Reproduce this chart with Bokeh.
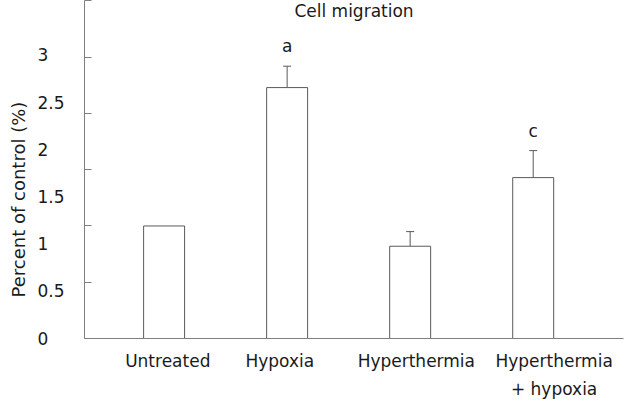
from bokeh.plotting import figure
from bokeh.models import (ColumnDataSource, Range1d, LinearAxis, FixedTicker,
                          Whisker, TeeHead, Label, Title)
from bokeh.core.properties import value
from bokeh.embed import file_html
from bokeh.resources import INLINE

# ---------------- data ----------------
categories = ["Untreated", "Hypoxia", "Hyperthermia", "Hyperthermia\n+ hypoxia"]
means = [1.0, 2.23, 0.82, 1.43]
errors = [0.0, 0.19, 0.13, 0.24]
sig_letters = ["", "a", "", "c"]
y_ticks = [0, 0.5, 1, 1.5, 2, 2.5, 3]
y_tick_labels = ["0", "0.5", "1", "1.5", "2", "2.5", "3"]
chart_title = "Cell migration"
y_title = "Percent of control (%)"

# ---------------- layout / style ----------------
FONT = "DejaVu Sans"
TXT = "#1a1a1a"
AX = "#808080"
BAR = "#5a5a5a"
X_START, X_END = 0.353, 4.734
Y_END = 3.004
LABEL_Y_END = 3.583                  # the original's tick labels sit on a compressed scale
LABEL_X = [1.03, 1.94, 3.05, 4.17]   # where the category labels are anchored

pos = list(range(1, len(categories) + 1))
upper = [m + e for m, e in zip(means, errors)]
src = ColumnDataSource(dict(x=pos, top=means))
idx = [i for i, e in enumerate(errors) if e > 0]
err_src = ColumnDataSource(dict(x=[pos[i] for i in idx],
                                lower=[means[i] for i in idx],
                                upper=[upper[i] for i in idx]))
lidx = [i for i, s in enumerate(sig_letters) if s]
let_src = ColumnDataSource(dict(x=[pos[i] for i in lidx],
                                y=[upper[i] for i in lidx],
                                letter=[sig_letters[i] for i in lidx]))

p = figure(width=630, height=403, output_backend="svg",
           toolbar_location=None,
           x_range=Range1d(X_START, X_END), y_range=Range1d(0, Y_END),
           min_border_left=83, min_border_right=7, min_border_top=0,
           min_border_bottom=65, outline_line_color=None,
           background_fill_color="white", border_fill_color="white")
p.xgrid.visible = False
p.ygrid.visible = False

# bars
p.vbar(x="x", top="top", bottom=0, width=0.333, source=src,
       fill_color="white", line_color=BAR, line_width=1)

# error bars (upper only)
p.add_layout(Whisker(base="x", lower="lower", upper="upper", source=err_src,
                     dimension="height", line_color=BAR, line_width=1,
                     lower_head=None,
                     upper_head=TeeHead(size=8, line_color=BAR, line_width=1)))

# significance letters
p.text(x="x", y="y", text="letter", source=let_src, text_align="center",
       text_baseline="alphabetic", y_offset=-20, text_color=TXT,
       text_font=value(FONT), text_font_size="17px")

# chart title inside the frame
p.add_layout(Label(x=(X_START + X_END) / 2, y=Y_END, text=chart_title,
                   text_align="center", text_baseline="top", text_color=TXT,
                   text_font=FONT, text_font_size="17px"))

# main y axis: line + inward ticks, no labels
ya = p.yaxis[0]
ya.ticker = FixedTicker(ticks=y_ticks)
ya.axis_line_color = AX
ya.major_tick_line_color = AX
ya.major_tick_in = 7
ya.major_tick_out = 0
ya.minor_tick_in = 0
ya.minor_tick_out = 0
ya.major_label_overrides = {t: "" for t in y_ticks}
ya.major_label_text_color = None
ya.major_label_standoff = 0

# label axis (as printed in the original)
p.extra_y_ranges = {"lab": Range1d(0, LABEL_Y_END)}
overrides = {}
for t, s in zip(y_ticks, y_tick_labels):
    overrides[t] = s if "." in s else s + "\u2008\u2007"
la = LinearAxis(y_range_name="lab", ticker=FixedTicker(ticks=y_ticks),
                axis_line_color=None, major_tick_line_color=None,
                minor_tick_line_color=None, major_tick_in=0, major_tick_out=0,
                minor_tick_in=0, minor_tick_out=0, major_label_standoff=20,
                major_label_overrides=overrides,
                major_label_text_font=FONT, major_label_text_font_size="17px",
                major_label_text_color=TXT)
p.add_layout(la, "left")

# y axis title
p.add_layout(Title(text=y_title, align="left", offset=41, standoff=11,
                   text_font=FONT, text_font_size="18px",
                   text_font_style="normal", text_color=TXT), "left")

# x axis
xa = p.xaxis[0]
xa.ticker = FixedTicker(ticks=LABEL_X)
xa.major_label_overrides = {lx: c for lx, c in zip(LABEL_X, categories)}
xa.axis_line_color = AX
xa.major_tick_in = 0
xa.major_tick_out = 0
xa.minor_tick_in = 0
xa.minor_tick_out = 0
xa.major_label_standoff = 12
xa.major_label_text_font = FONT
xa.major_label_text_font_size = "17px"
xa.major_label_text_color = TXT
xa.major_label_text_line_height = 1.4

open("out.html", "w").write(file_html(p, INLINE))
